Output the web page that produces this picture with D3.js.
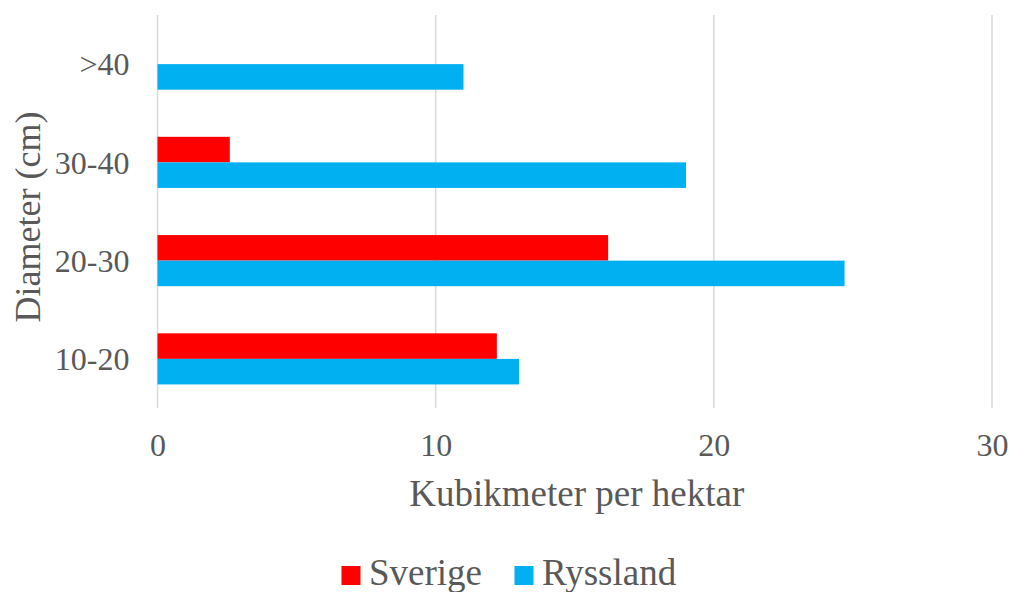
<!DOCTYPE html>
<html>
<head>
<meta charset="utf-8">
<script src="https://cdn.jsdelivr.net/npm/d3@7"></script>
<style>
  html, body { margin: 0; padding: 0; background: #fff; }
  svg { display: block; }
  text { font-family: "Liberation Serif", "Times New Roman", serif; fill: #595959; }
</style>
</head>
<body>
<svg id="chart" width="1010" height="592"></svg>
<script>
const categories = ["10-20", "20-30", "30-40", ">40"];
const seriesNames = ["Sverige", "Ryssland"];
const sverige = [12.2, 16.2, 2.6, 0];
const ryssland = [13.0, 24.7, 19.0, 11.0];
const xTicks = [0, 10, 20, 30];
const colors = ["#ff0000", "#00b0f0"];
const xTitle = "Kubikmeter per hektar";
const yTitle = "Diameter (cm)";

(function () {
const svg = d3.select("#chart");
const pL = 157.5, pR = 992, pT = 15, pB = 408;

const x = d3.scaleLinear().domain([0, 30]).range([pL, pR]);
const y = d3.scaleBand().domain(categories.slice().reverse()).range([pT, pB]).padding(0);

const groupFrac = 0.52;
const inner = d3.scaleBand().domain(seriesNames)
  .range([0, y.bandwidth() * groupFrac]).padding(0);

// gridlines
svg.append("g").selectAll("line").data(xTicks).join("line")
  .attr("x1", d => x(d)).attr("x2", d => x(d))
  .attr("y1", pT).attr("y2", pB)
  .attr("stroke", "#d9d9d9").attr("stroke-width", 1.5);

// bars
const seriesData = [sverige, ryssland];
seriesNames.forEach((name, si) => {
  svg.append("g").selectAll("rect").data(categories).join("rect")
    .attr("x", x(0))
    .attr("y", (c) => y(c) + y.bandwidth() * (1 - groupFrac) / 2 + inner(name))
    .attr("width", (c, i) => x(seriesData[si][i]) - x(0))
    .attr("height", inner.bandwidth())
    .attr("fill", colors[si]);
});

// x axis tick labels
const xAxis = d3.axisBottom(x).tickValues(xTicks).tickSize(0).tickPadding(0);
const gx = svg.append("g").attr("transform", `translate(0,${pB})`).call(xAxis);
gx.select(".domain").remove();
gx.selectAll("text")
  .attr("y", 48).attr("dy", null)
  .style("font-size", "32px").style("font-family", "Liberation Serif").attr("fill", "#595959");

// y axis tick labels
const yAxis = d3.axisLeft(y).tickSize(0).tickPadding(0);
const gy = svg.append("g").attr("transform", `translate(${pL},0)`).call(yAxis);
gy.select(".domain").remove();
gy.selectAll("text")
  .attr("x", -28).attr("dy", "0.35em")
  .style("font-size", "32px").style("font-family", "Liberation Serif").attr("fill", "#595959");

// axis titles
svg.append("text")
  .attr("x", (pL + pR) / 2 + 2).attr("y", 506)
  .attr("text-anchor", "middle")
  .style("font-size", "37px")
  .text(xTitle);

svg.append("text")
  .attr("transform", "translate(40,217) rotate(-90)")
  .attr("text-anchor", "middle")
  .style("font-size", "36px")
  .text(yTitle);

// legend
const legendItems = [
  { name: seriesNames[0], color: colors[0], sx: 341.5, tx: 369 },
  { name: seriesNames[1], color: colors[1], sx: 514.5, tx: 542 }
];
const lg = svg.append("g");
legendItems.forEach(it => {
  lg.append("rect").attr("x", it.sx).attr("y", 566).attr("width", 19).attr("height", 19).attr("fill", it.color);
  lg.append("text").attr("x", it.tx).attr("y", 585).style("font-size", "37px").text(it.name);
});
})();
</script>
</body>
</html>
